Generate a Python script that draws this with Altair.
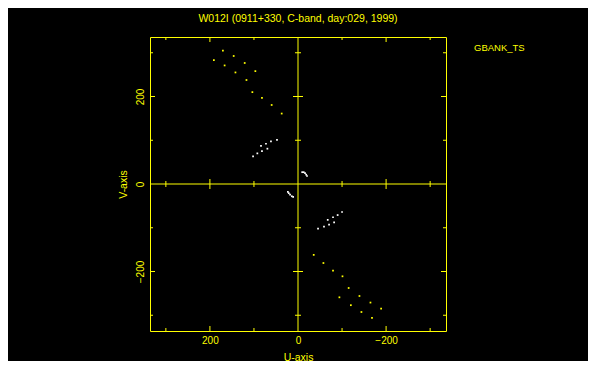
import altair as alt
import pandas as pd

# --- data (u, v in wavelengths / arbitrary units) ---
yellow_u = [170.5, 146, 191, 166.6, 121, 96.8, 142, 117, 103.6, 81.8, 59.8, 37,
            -35.7, -57.7, -79.5, -101, -115, -139.5, -94, -120, -164.5, -144, -188.7, -168]
yellow_v = [305, 292.6, 283, 271, 276.6, 258, 255, 237.7, 210, 196.6, 180.6, 161,
            -162, -180.6, -198, -211, -237.7, -256, -259, -277, -271, -292.6, -285, -306]

white_u = [47.7, 61.4, 72.7, 84, 69.5, 81.8, 92.3, 102,
           -100, -90, -79.5, -67.5, -82, -70.5, -59, -45.5,
           -9.5, -13, -16, -18.6, -20.5,
           23, 21, 18, 14, 11]
white_v = [100.6, 97.4, 92, 86.9, 80.7, 75.4, 70, 63,
           -64, -71, -76, -82, -87.7, -93, -97.6, -102,
           27, 27, 24.7, 21.3, 18.3,
           -18, -21, -24.5, -28, -29.5]

tick_values = [-300, -200, -100, 100, 200, 300]
label_values = [-200, 0, 200]
LIM = 336

TITLE = "W012I (0911+330, C-band, day:029, 1999)"
SIDE_LABEL = "GBANK_TS"

YEL = "#ffff00"
FONT = "Liberation Sans"

pts = pd.DataFrame({
    "u": yellow_u + white_u,
    "v": yellow_v + white_v,
    "c": ["y"] * len(yellow_u) + ["w"] * len(white_u),
})

vt_rows = []
for t in tick_values:
    for vv in [LIM, -LIM, 0]:
        vt_rows.append({"u": t, "v": vv, "len": 10 if abs(t) == 200 else 6})
ht_rows = []
for t in tick_values:
    for uu in [LIM, -LIM, 0]:
        ht_rows.append({"u": uu, "v": t, "len": 10 if abs(t) == 200 else 6})
vt = pd.DataFrame(vt_rows)
ht = pd.DataFrame(ht_rows)

xscale = alt.Scale(domain=[-LIM, LIM], reverse=True, nice=False, zero=False)
yscale = alt.Scale(domain=[-LIM, LIM], nice=False, zero=False)

xaxis = alt.Axis(values=label_values, ticks=False, domain=False, grid=False,
                 labelColor=YEL, labelFont=FONT, labelFontSize=10, labelPadding=4,
                 title="U-axis", titleColor=YEL, titleFont=FONT, titleFontSize=10.5,
                 titleFontWeight="normal", titlePadding=7)
yaxis = alt.Axis(values=label_values, ticks=False, domain=False, grid=False,
                 labelColor=YEL, labelFont=FONT, labelFontSize=10, labelPadding=5,
                 labelAngle=-90, labelAlign="center", labelBaseline="bottom",
                 title="V-axis", titleColor=YEL, titleFont=FONT, titleFontSize=10.5,
                 titleFontWeight="normal", titlePadding=7)

def X(field="u"):
    return alt.X(f"{field}:Q", scale=xscale, axis=xaxis)

def Y(field="v"):
    return alt.Y(f"{field}:Q", scale=yscale, axis=yaxis)

hline = alt.Chart(pd.DataFrame({"v": [0]})).mark_rule(color=YEL, strokeWidth=1).encode(y=Y())
vline = alt.Chart(pd.DataFrame({"u": [0]})).mark_rule(color=YEL, strokeWidth=1).encode(x=X())

vticks = alt.Chart(vt).mark_tick(orient="vertical", color=YEL, thickness=1, clip=True, opacity=1).encode(
    x=X(), y=Y(), size=alt.Size("len:Q", scale=None, legend=None))
hticks = alt.Chart(ht).mark_tick(orient="horizontal", color=YEL, thickness=1, clip=True, opacity=1).encode(
    x=X(), y=Y(), size=alt.Size("len:Q", scale=None, legend=None))

points = alt.Chart(pts).mark_square(size=3, opacity=1).encode(
    x=X(), y=Y(),
    color=alt.Color("c:N", scale=alt.Scale(domain=["y", "w"], range=[YEL, "#ffffff"]), legend=None))

side = alt.Chart(pd.DataFrame({"t": [SIDE_LABEL]})).mark_text(
    color=YEL, font=FONT, fontSize=9.5, align="left", baseline="middle").encode(
    text="t:N", x=alt.value(324), y=alt.value(10.5))

title = alt.Chart(pd.DataFrame({"t": [TITLE]})).mark_text(
    color=YEL, font=FONT, fontSize=10.5, align="center", baseline="middle").encode(
    text="t:N", x=alt.value(148), y=alt.value(-18))

chart = alt.layer(hline, vline, vticks, hticks, points, side, title).properties(
    width=296, height=294,
    padding={"left": 142, "top": 29, "right": 142, "bottom": 30},
    autosize=alt.AutoSizeParams(type="none"),
    background="#000000",
).configure_view(stroke=YEL, strokeWidth=1)

chart.save("out.html", embed_options={"renderer": "svg", "actions": False})
